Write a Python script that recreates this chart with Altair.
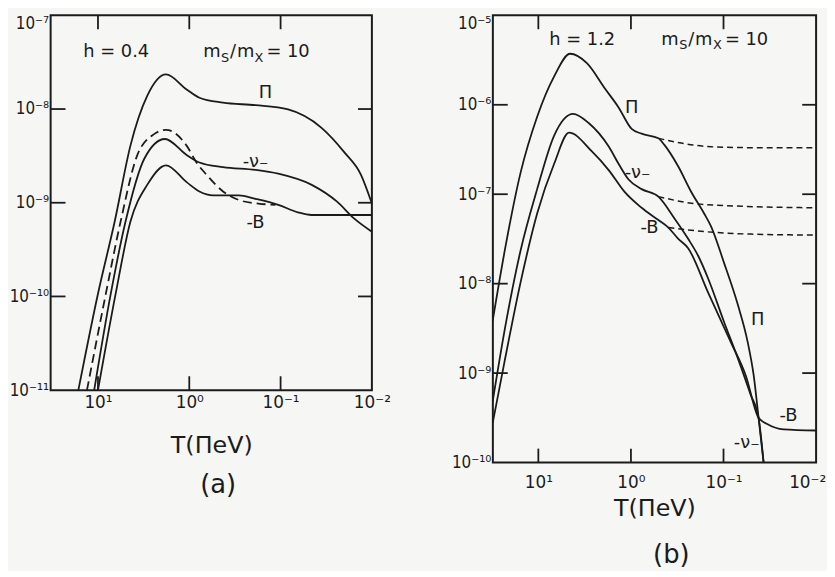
import altair as alt
import pandas as pd

FONT = "DejaVu Sans"
YFONT = "DejaVu Sans Condensed, DejaVu Sans"
INK = "#1b1b1b"
BG = "#f6f6f4"

# ---------------- Panel (a): h = 0.4, mS/mX = 10 ----------------
A_PI_T = [16.4, 10.0, 6.56, 4.41, 2.89, 1.80, 1.07, 0.774, 0.427, 0.188, 0.0828, 0.0356, 0.0201, 0.0132, 0.0100]
A_PI_V = [1.0e-11, 1.07e-10, 6.3e-10, 4.07e-9, 1.38e-8, 2.34e-8, 1.62e-8, 1.32e-8, 1.17e-8, 1.10e-8, 9.9e-9, 6.3e-9, 3.47e-9, 2.0e-9, 9.8e-10]
A_NU_T = [11.0, 7.24, 4.99, 3.11, 1.85, 1.07, 0.774, 0.427, 0.188, 0.106, 0.0456, 0.0239, 0.0157, 0.0100]
A_NU_V = [1.0e-11, 1.07e-10, 6.3e-10, 2.95e-9, 4.79e-9, 3.24e-9, 2.69e-9, 2.40e-9, 2.24e-9, 2.04e-9, 1.55e-9, 1.02e-9, 6.8e-10, 4.9e-10]
A_B_T = [10.0, 6.40, 4.41, 2.89, 1.80, 1.07, 0.774, 0.547, 0.286, 0.188, 0.106, 0.0646, 0.0456, 0.0100]
A_B_V = [1.0e-11, 1.07e-10, 6.3e-10, 1.55e-9, 2.51e-9, 1.66e-9, 1.32e-9, 1.20e-9, 1.20e-9, 1.10e-9, 9.5e-10, 7.9e-10, 7.4e-10, 7.4e-10]
A_DASH_T = [13.2, 8.20, 5.65, 3.70, 2.43, 1.80, 1.07, 0.834, 0.650, 0.427, 0.286, 0.175, 0.114]
A_DASH_V = [1.0e-11, 1.07e-10, 6.3e-10, 3.24e-9, 5.4e-9, 6.0e-9, 4.07e-9, 2.69e-9, 2.0e-9, 1.32e-9, 1.07e-9, 9.8e-10, 9.5e-10]

# ---------------- Panel (b): h = 1.2, mS/mX = 10 ----------------
B_PI_T = [31.1, 23.1, 15.6, 10.3, 6.75, 4.54, 2.99, 1.91, 1.36, 0.982, 0.767, 0.505, 0.435, 0.308, 0.223, 0.162, 0.136, 0.0991, 0.0701, 0.0548, 0.0472, 0.0418, 0.0369]
B_PI_V = [3.87e-9, 2.32e-8, 1.72e-7, 7.35e-7, 2.08e-6, 3.72e-6, 2.92e-6, 1.52e-6, 9.35e-7, 5.37e-7, 4.75e-7, 4.22e-7, 3.56e-7, 2.04e-7, 1.06e-7, 6.09e-8, 4.35e-8, 1.73e-8, 5.83e-9, 2.22e-9, 9.4e-10, 3.16e-10, 1.0e-10]
B_NU_T = [31.1, 23.1, 15.6, 10.3, 6.75, 4.22, 2.84, 1.73, 1.36, 1.06, 0.767, 0.505, 0.340, 0.241, 0.188, 0.147, 0.0991, 0.0684, 0.0508, 0.0418, 0.0369]
B_NU_V = [4.85e-10, 3.04e-9, 2.32e-8, 1.14e-7, 4.53e-7, 7.91e-7, 6.21e-7, 3.39e-7, 2.19e-7, 1.46e-7, 1.14e-7, 9.4e-8, 5.39e-8, 3.17e-8, 2.05e-8, 1.15e-8, 3.78e-9, 1.37e-9, 5.7e-10, 3.16e-10, 1.0e-10]
B_B_T = [31.1, 23.1, 15.6, 10.3, 6.75, 4.66, 2.64, 1.73, 1.17, 0.767, 0.505, 0.394, 0.308, 0.241, 0.147, 0.0834, 0.0575, 0.0418, 0.0334, 0.0225, 0.0100]
B_B_V = [2.77e-10, 1.37e-9, 1.02e-8, 6.09e-8, 2.19e-7, 4.88e-7, 3.01e-7, 1.85e-7, 1.06e-7, 7.05e-8, 5.14e-8, 4.24e-8, 3.17e-8, 2.49e-8, 8.0e-9, 2.22e-9, 9.4e-10, 3.16e-10, 2.68e-10, 2.35e-10, 2.28e-10]
B_PI_DASH_T = [0.505, 0.286, 0.136, 0.0397, 0.0100]
B_PI_DASH_V = [4.22e-7, 3.73e-7, 3.39e-7, 3.31e-7, 3.31e-7]
B_NU_DASH_T = [0.505, 0.223, 0.0774, 0.0100]
B_NU_DASH_V = [9.4e-8, 7.94e-8, 7.39e-8, 7.05e-8]
B_B_DASH_T = [0.394, 0.175, 0.0508, 0.0100]
B_B_DASH_V = [4.24e-8, 3.85e-8, 3.58e-8, 3.49e-8]

X_TICKS = [1, 0, -1, -2]
A_Y_TICKS = [-11, -10, -9, -8, -7]
B_Y_TICKS = [-10, -9, -8, -7, -6, -5]

# annotation texts: (T, value, text)
A_CURVE_LABELS = [(0.1466, 1.50e-8, "Π"), (0.188, 2.71e-9, "-ν₋"), (0.188, 6.0e-10, "-B")]
A_HEADER = [(14.5, 4.05e-8, "h = 0.4", 18), (0.701, 4.05e-8, "m", 18), (0.449, 3.51e-8, "S", 13),
            (0.358, 4.05e-8, "/", 18), (0.301, 4.05e-8, "m", 18), (0.193, 3.51e-8, "X", 13),
            (0.143, 4.05e-8, "= 10", 18)]
B_CURVE_LABELS = [(0.983, 9.1e-7, "Π"), (0.848, 1.72e-7, "-ν₋"), (0.631, 4.14e-8, "-B"),
                  (0.0428, 3.87e-9, "Π"), (0.0199, 3.28e-10, "-B"), (0.0561, 1.64e-10, "-ν₋")]
B_HEADER = [(7.62, 5.33e-6, "h = 1.2", 18), (0.469, 5.33e-6, "m", 18), (0.301, 4.61e-6, "S", 13),
            (0.241, 5.33e-6, "/", 18), (0.203, 5.33e-6, "m", 18), (0.130, 4.61e-6, "X", 13),
            (0.0966, 5.33e-6, "= 10", 18)]

SUP = {"0": "⁰", "1": "¹", "2": "²", "3": "³", "4": "⁴", "5": "⁵", "6": "⁶",
       "7": "⁷", "8": "⁸", "9": "⁹", "-": "⁻"}
EXP = "round(log(datum.value)/LN10)"


def pow_label(e):
    return "10" + "".join(SUP[c] for c in str(e))


def label_expr(exps):
    parts = [f"{EXP} == {k} ? '{pow_label(k)}'" for k in exps]
    return " : ".join(parts) + " : ''"


def series_df(items):
    rows = []
    for name, T, V in items:
        for i, (t, v) in enumerate(zip(T, V)):
            rows.append({"T": t, "v": v, "s": name, "i": i})
    return pd.DataFrame(rows)


def panel(solid, dashed, dash, xdom, ydom, yexps, w, h, curve_labels, header,
          caption, lab_pad, title_pad, cap_off, cap_dx, last_shift):
    xs = alt.Scale(type="log", domain=xdom, reverse=True)
    ys = alt.Scale(type="log", domain=ydom)
    xaxis = alt.Axis(values=[10.0 ** e for e in X_TICKS], labelExpr=label_expr(X_TICKS),
                     ticks=False, domain=False, grid=False, labelFlush=False, labelOverlap=False,
                     labelFont=FONT, labelFontSize=17, labelColor=INK, labelPadding=lab_pad,
                     labelOffset={"condition": {"test": f"{EXP} == {X_TICKS[-1]}", "value": last_shift},
                                  "value": 0},
                     title="T(ΠeV)", titleFont=FONT, titleFontSize=24, titleFontWeight="normal",
                     titleColor=INK, titlePadding=title_pad)
    top_exp = yexps[-1]
    yaxis = alt.Axis(values=[10.0 ** e for e in yexps], labelExpr=label_expr(yexps),
                     ticks=False, domain=False, grid=False, labelFlush=False, labelOverlap=False,
                     labelFont=YFONT, labelFontSize=17, labelColor=INK, labelPadding=2, title=None,
                     labelBaseline={"condition": {"test": f"{EXP} == {top_exp}", "value": "top"},
                                    "value": "middle"})
    X = alt.X("T:Q", scale=xs, axis=xaxis)
    Y = alt.Y("v:Q", scale=ys, axis=yaxis)

    solid_l = alt.Chart(solid).mark_line(color=INK, strokeWidth=1.8, interpolate="monotone",
                                         clip=True).encode(x=X, y=Y, detail="s:N", order="i:Q")
    dashed_l = alt.Chart(dashed).mark_line(color=INK, strokeWidth=dash[2], strokeDash=dash[:2],
                                           interpolate="monotone", clip=True).encode(
        x=X, y=Y, detail="s:N", order="i:Q")

    inner_x = pd.DataFrame({"T": [10.0 ** e for e in X_TICKS[:-1]]})
    inner_y = pd.DataFrame({"v": [10.0 ** e for e in yexps[1:-1]]})
    rule = dict(color=INK, strokeWidth=1.8)
    top_t = alt.Chart(inner_x).mark_rule(**rule).encode(x=X, y=alt.value(0), y2=alt.value(14))
    bot_t = alt.Chart(inner_x).mark_rule(**rule).encode(x=X, y=alt.value(h - 14), y2=alt.value(h))
    lef_t = alt.Chart(inner_y).mark_rule(**rule).encode(y=Y, x=alt.value(0), x2=alt.value(15))
    rig_t = alt.Chart(inner_y).mark_rule(**rule).encode(y=Y, x=alt.value(w - 14), x2=alt.value(w))

    cl = pd.DataFrame(curve_labels, columns=["T", "v", "txt"])
    cl_l = alt.Chart(cl).mark_text(font=FONT, fontSize=18, color=INK, align="center",
                                   baseline="middle").encode(x=X, y=Y, text="txt:N")
    hd = pd.DataFrame(header, columns=["T", "v", "txt", "sz"])
    hd_l = alt.Chart(hd).mark_text(font=FONT, color=INK, align="left", baseline="middle").encode(
        x=X, y=Y, text="txt:N", size=alt.Size("sz:Q", scale=None, legend=None))

    return alt.layer(solid_l, dashed_l, top_t, bot_t, lef_t, rig_t, cl_l, hd_l).properties(
        width=w, height=h,
        title=alt.Title(caption, orient="bottom", font=FONT, fontSize=26, fontWeight="normal",
                        color=INK, offset=cap_off, dx=cap_dx))


a_solid = series_df([("pi", A_PI_T, A_PI_V), ("nu", A_NU_T, A_NU_V), ("B", A_B_T, A_B_V)])
a_dash = series_df([("d", A_DASH_T, A_DASH_V)])
b_solid = series_df([("pi", B_PI_T, B_PI_V), ("nu", B_NU_T, B_NU_V), ("B", B_B_T, B_B_V)])
b_dash = series_df([("pi", B_PI_DASH_T, B_PI_DASH_V), ("nu", B_NU_DASH_T, B_NU_DASH_V),
                    ("B", B_B_DASH_T, B_B_DASH_V)])

pa = panel(a_solid, a_dash, [9, 5, 1.8], [0.01, 33], [1e-11, 1e-7], A_Y_TICKS, 324, 378,
           A_CURVE_LABELS, A_HEADER, "(a)", 5, 23, 15, 7, 0)
pb = panel(b_solid, b_dash, [6, 4, 1.5], [0.01, 31], [1e-10, 1e-5], B_Y_TICKS, 326, 451,
           B_CURVE_LABELS, B_HEADER, "(b)", 12, 6, 22, 17, -9)

chart = alt.hconcat(pa, pb, spacing=122, bounds="flush").configure(
    background=BG, padding={"left": 0, "right": 0, "top": 3, "bottom": 0}
).configure_view(stroke=INK, strokeWidth=2)

chart.save("out.html", embed_options={"renderer": "svg", "actions": False})
